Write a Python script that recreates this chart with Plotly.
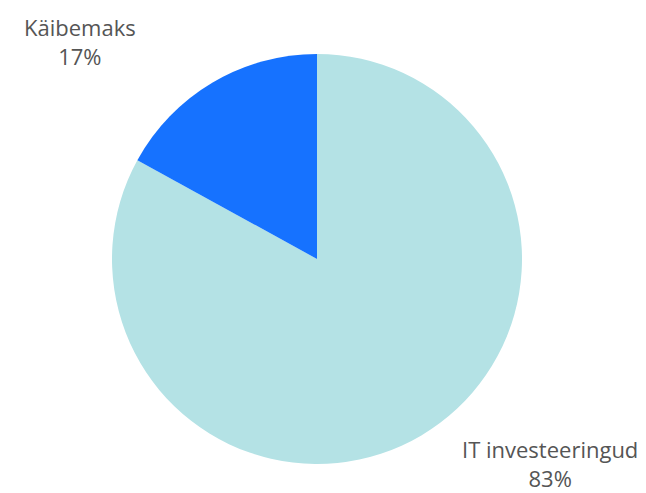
import plotly.graph_objects as go

labels = ["IT investeeringud", "Käibemaks"]
values = [83, 17]
colors = ["#b4e2e5", "#1672ff"]

total = sum(values)
pct = [round(v / total * 100) for v in values]

fig = go.Figure(
    go.Pie(
        labels=labels,
        values=values,
        sort=False,
        direction="clockwise",
        rotation=0,
        marker=dict(colors=colors, line=dict(width=0)),
        textinfo="none",
        hoverinfo="label+percent",
        showlegend=False,
    )
)

font = dict(family="Open Sans, sans-serif", size=22, color="#555555")

# label positions in pixels, converted to paper coords
W, H = 646, 493
ml, mr, mt, mb = 104, 132, 46, 37
pw, ph = W - ml - mr, H - mt - mb


def px2paper(x, y):
    return (x - ml) / pw, (H - mb - y) / ph


label_px = [(542, 455), (72, 34)]
for name, p, (x, y) in zip(labels, pct, label_px):
    ax, ay = px2paper(x, y)
    fig.add_annotation(
        x=ax, y=ay, xref="paper", yref="paper",
        text=f"{name}<br>{p}%",
        showarrow=False, font=font, align="center",
        xanchor="center", yanchor="middle",
    )

fig.update_layout(
    width=W,
    height=H,
    margin=dict(l=ml, r=mr, t=mt, b=mb),
    paper_bgcolor="white",
    plot_bgcolor="white",
)

fig.write_html("out.html")
